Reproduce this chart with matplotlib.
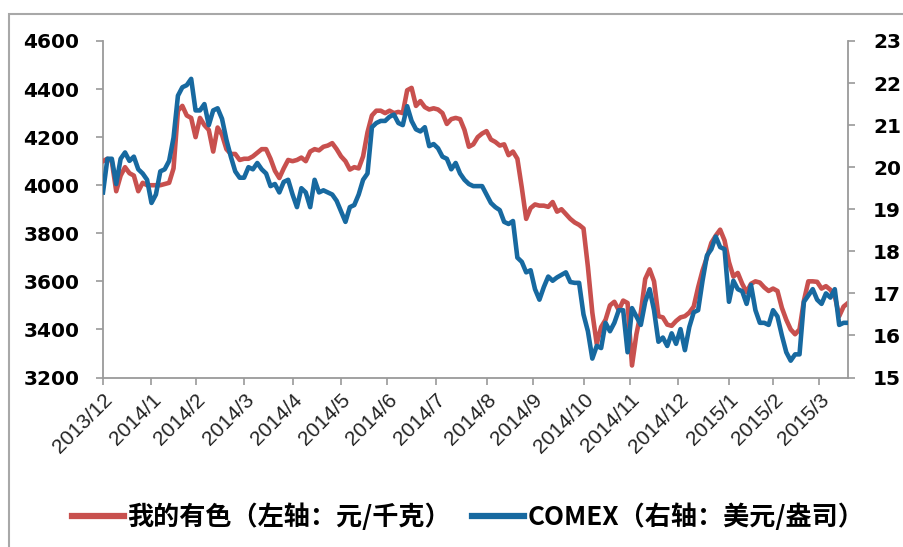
import numpy as np
import matplotlib
matplotlib.use('Agg')
import matplotlib.pyplot as plt
from matplotlib.lines import Line2D
from matplotlib.patches import Rectangle
from matplotlib.font_manager import FontProperties

month_labels = ['2013/12', '2014/1', '2014/2', '2014/3', '2014/4', '2014/5', '2014/6',
                '2014/7', '2014/8', '2014/9', '2014/10', '2014/11', '2014/12',
                '2015/1', '2015/2', '2015/3']
# trading days in each month (Dec 2013 .. Feb 2015)
month_days = [22, 20, 22, 22, 22, 21, 22, 23, 21, 23, 21, 22, 23, 20, 21]
sample_step = 2  # one value every two trading days

# 我的有色 silver price (元/千克), left axis
silver_cny = [
    4100, 4110, 4100, 3975, 4040, 4075, 4050, 4040, 3975, 4010,
    4000, 4000, 4000, 4000, 4005, 4010, 4070, 4310, 4330, 4290,
    4280, 4200, 4280, 4250, 4230, 4140, 4240, 4210, 4150, 4130,
    4130, 4105, 4110, 4110, 4120, 4135, 4150, 4150, 4110, 4060,
    4030, 4070, 4105, 4100, 4105, 4115, 4100, 4140, 4150, 4145,
    4160, 4165, 4175, 4150, 4120, 4100, 4065, 4075, 4070, 4120,
    4220, 4290, 4310, 4310, 4300, 4310, 4300, 4305, 4300, 4395,
    4405, 4330, 4350, 4325, 4315, 4320, 4315, 4300, 4255, 4275,
    4280, 4275, 4230, 4160, 4170, 4200, 4215, 4225, 4190, 4180,
    4165, 4170, 4125, 4140, 4110, 3990, 3860, 3905, 3920, 3915,
    3915, 3910, 3930, 3890, 3900, 3880, 3860, 3845, 3835, 3820,
    3660, 3470, 3340, 3410, 3440, 3500, 3515, 3480, 3520, 3510,
    3250, 3380, 3470, 3610, 3650, 3600, 3455, 3450, 3420, 3415,
    3435, 3450, 3455, 3470, 3495, 3575, 3645, 3700, 3760, 3790,
    3815, 3770, 3680, 3620, 3635, 3590, 3555, 3590, 3600, 3595,
    3575, 3560, 3570, 3560, 3490, 3440, 3400, 3380, 3400, 3520,
    3600, 3600, 3598, 3570, 3580, 3565, 3540, 3455, 3495, 3510,
]

# COMEX silver (美元/盎司), right axis
silver_comex = [
    19.4, 20.2, 20.2, 19.6, 20.2, 20.35, 20.15, 20.25, 19.95, 19.85,
    19.7, 19.15, 19.35, 19.9, 19.95, 20.15, 20.7, 21.7, 21.9, 21.95,
    22.1, 21.35, 21.35, 21.5, 21.0, 21.35, 21.4, 21.15, 20.65, 20.25,
    19.9, 19.75, 19.75, 20.0, 19.95, 20.1, 19.95, 19.85, 19.55, 19.6,
    19.4, 19.65, 19.7, 19.35, 19.05, 19.5, 19.4, 19.05, 19.7, 19.4,
    19.45, 19.4, 19.35, 19.2, 18.95, 18.7, 19.05, 19.1, 19.35, 19.7,
    19.85, 20.95, 21.05, 21.1, 21.1, 21.2, 21.25, 21.05, 21.0, 21.45,
    21.1, 20.9, 20.85, 20.95, 20.5, 20.55, 20.45, 20.25, 20.2, 19.95,
    20.1, 19.85, 19.7, 19.6, 19.55, 19.55, 19.55, 19.35, 19.15, 19.05,
    18.98, 18.7, 18.65, 18.72, 17.85, 17.75, 17.5, 17.55, 17.1, 16.85,
    17.15, 17.4, 17.3, 17.38, 17.44, 17.5, 17.27, 17.25, 17.25, 16.5,
    16.1, 15.45, 15.75, 15.7, 16.3, 16.1, 16.3, 16.6, 16.6, 15.6,
    16.65, 16.45, 16.25, 16.8, 17.1, 16.6, 15.85, 15.95, 15.75, 16.05,
    15.8, 16.15, 15.65, 16.2, 16.55, 16.6, 17.3, 17.9, 18.05, 18.35,
    18.1, 18.05, 16.8, 17.3, 17.1, 17.05, 16.75, 17.2, 16.6, 16.3,
    16.3, 16.25, 16.6, 16.45, 16.0, 15.6, 15.4, 15.55, 15.55, 16.8,
    16.95, 17.1, 16.85, 16.75, 17.0, 16.9, 17.1, 16.25, 16.3, 16.3,
]

left_ticks = [3200, 3400, 3600, 3800, 4000, 4200, 4400, 4600]
right_ticks = [15, 16, 17, 18, 19, 20, 21, 22, 23]
legend_labels = ['我的有色（左轴：元/千克）', 'COMEX（右轴：美元/盎司）']

RED = '#C8504E'
BLUE = '#1769A0'
AXC = '#9A9A9A'

W, H = 904, 547
fig = plt.figure(figsize=(W / 100, H / 100), dpi=100)
fig.patch.set_facecolor('white')
ax = fig.add_axes([103 / W, 1 - 377.5 / H, 745 / W, 336.5 / H])
ax2 = ax.twinx()

x = np.arange(len(silver_cny)) * sample_step
ax.plot(x, silver_cny, color=RED, lw=3.3, solid_joinstyle='round', zorder=3)
ax2.plot(x, silver_comex, color=BLUE, lw=3.3, solid_joinstyle='round', zorder=3)

ax.set_xlim(0, x[-1])
ax.set_ylim(3200, 4600)
ax2.set_ylim(15, 23)

tick_pos = np.concatenate([[0], np.cumsum(month_days)])
ax.set_xticks(tick_pos)
ax.set_xticklabels(month_labels, rotation=45, ha='right', va='top',
                   rotation_mode='anchor', fontsize=15,
                   family='Liberation Sans', color='#222222')

ax.set_yticks(left_ticks)
ax.set_yticklabels([str(v) for v in left_ticks], fontweight='bold',
                   fontsize=14.5, family='DejaVu Sans', color='black')
ax2.set_yticks(right_ticks)
ax2.set_yticklabels([str(v) for v in right_ticks], fontweight='bold',
                    fontsize=14.5, family='DejaVu Sans', color='black')

for a in (ax, ax2):
    a.spines['top'].set_visible(False)
    for s in ('left', 'right', 'bottom'):
        a.spines[s].set_color(AXC)
        a.spines[s].set_linewidth(1.3)
ax.spines['right'].set_visible(False)
ax2.spines['left'].set_visible(False)
ax2.spines['bottom'].set_visible(False)

ax.tick_params(axis='y', direction='out', length=5, width=1.2, color=AXC, pad=12)
ax2.tick_params(axis='y', direction='out', length=5, width=1.2, color=AXC, pad=13)
ax.tick_params(axis='x', direction='out', length=5, width=1.2, color=AXC, pad=4)

handles = [Line2D([], [], color=RED, lw=4.5), Line2D([], [], color=BLUE, lw=4.5)]
fig.legend(handles, legend_labels, loc='center', bbox_to_anchor=(0.518, 0.054),
           ncol=2, frameon=False,
           prop=FontProperties(family=['Noto Sans CJK SC', 'DejaVu Sans'],
                               weight='bold', size=18.8),
           handlelength=2.0, handletextpad=0.12, columnspacing=0.8)

fig.patches.append(Rectangle((8.5 / W, -0.1), 1.2, 1 - 13.5 / H + 0.1,
                             transform=fig.transFigure, fill=False,
                             edgecolor='#A8A8A8', lw=1.5))

fig.savefig('out.png', dpi=100, facecolor='white')
